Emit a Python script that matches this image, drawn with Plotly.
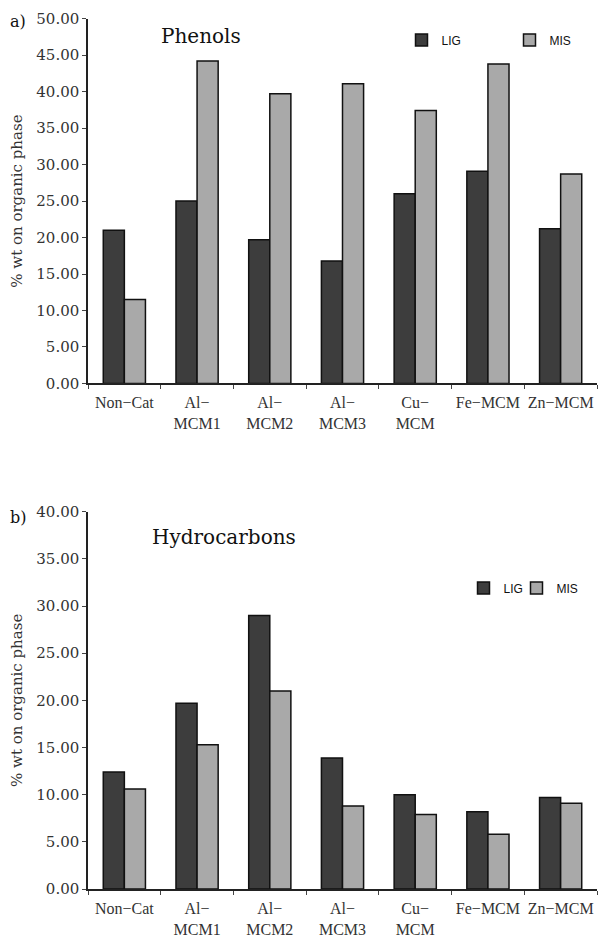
import plotly.graph_objects as go

categories = ["Non−Cat", "Al−<br>MCM1", "Al−<br>MCM2", "Al−<br>MCM3", "Cu−<br>MCM", "Fe−MCM", "Zn−MCM"]
phenols_lig = [21.0, 25.0, 19.7, 16.8, 26.0, 29.1, 21.2]
phenols_mis = [11.5, 44.2, 39.7, 41.1, 37.4, 43.8, 28.7]
hydro_lig = [12.4, 19.7, 29.0, 13.9, 10.0, 8.2, 9.7]
hydro_mis = [10.6, 15.3, 21.0, 8.8, 7.9, 5.8, 9.1]

LIG_COLOR = "#3d3d3d"
MIS_COLOR = "#a9a9a9"
SERIF = "DejaVu Serif"
XSERIF = "Liberation Serif"
TXT = "#333333"

fig = go.Figure()
def bar(y, name, color, xa, ya, leg):
    return go.Bar(x=categories, y=y, name=name, marker=dict(color=color, line=dict(color="#111", width=1.5)),
                  xaxis=xa, yaxis=ya, legend=leg, offsetgroup=name)

fig.add_trace(bar(phenols_lig, "LIG", LIG_COLOR, "x", "y", "legend"))
fig.add_trace(bar(phenols_mis, "MIS", MIS_COLOR, "x", "y", "legend2"))
fig.add_trace(bar(hydro_lig, "LIG", LIG_COLOR, "x2", "y2", "legend3"))
fig.add_trace(bar(hydro_mis, "MIS", MIS_COLOR, "x2", "y2", "legend4"))

xcommon = dict(showline=True, linecolor="#222", linewidth=1.5, ticks="outside", ticklen=4, tickcolor="#444",
               tickson="boundaries", showgrid=False, tickfont=dict(family=XSERIF, size=16, color=TXT),
               ticklabelstandoff=4, tickangle=0, automargin=False)
ycommon = dict(showline=True, linecolor="#222", linewidth=1.5, ticks="outside", ticklen=4, tickcolor="#444",
               showgrid=False, zeroline=False, dtick=5, tickformat=".2f", automargin=False,
               tickfont=dict(family=SERIF, size=15, color=TXT),
               title=dict(text="% wt on organic phase", font=dict(family=SERIF, size=15, color=TXT), standoff=11))

legfont = dict(family="Liberation Sans", size=12, color="#111")
def leg(xpx, ypx):
    # xpx, ypx: desired legend centre in page pixels (page offset of 8 px)
    return dict(x=(xpx - 88) / 509, y=1 - (ypx - 18) / 871, xanchor="center", yanchor="middle",
                font=legfont, bgcolor="rgba(0,0,0,0)", orientation="h")

fig.update_layout(
    template="none",
    width=600, height=929,
    margin=dict(l=80, r=11, t=10, b=48),
    plot_bgcolor="white", paper_bgcolor="white",
    barmode="group", bargap=0.42, bargroupgap=0,
    xaxis=dict(domain=[0, 1], anchor="y", **xcommon),
    yaxis=dict(domain=[0.5804, 0.9992], anchor="x", range=[0, 50], **ycommon),
    xaxis2=dict(domain=[0, 1], anchor="y2", **xcommon),
    yaxis2=dict(domain=[0, 0.4332], anchor="x2", range=[0, 40], **ycommon),
    legend=leg(434, 40),
    legend2=leg(543, 40),
    legend3=leg(496, 588),
    legend4=leg(550, 588),
    showlegend=True,
    annotations=[
        dict(text="Phenols", xref="paper", yref="paper", x=0.222, y=0.979, xanchor="center", yanchor="middle",
             showarrow=False, font=dict(family=SERIF, size=20, color="#111")),
        dict(text="Hydrocarbons", xref="paper", yref="paper", x=0.267, y=0.404, xanchor="center", yanchor="middle",
             showarrow=False, font=dict(family=SERIF, size=20, color="#111")),
        dict(text="a)", xref="paper", yref="paper", x=-0.157, y=0.996, xanchor="left", yanchor="middle",
             showarrow=False, font=dict(family=SERIF, size=16, color="#111")),
        dict(text="b)", xref="paper", yref="paper", x=-0.157, y=0.427, xanchor="left", yanchor="middle",
             showarrow=False, font=dict(family=SERIF, size=16, color="#111")),
    ],
)

fig.write_html("out.html")
